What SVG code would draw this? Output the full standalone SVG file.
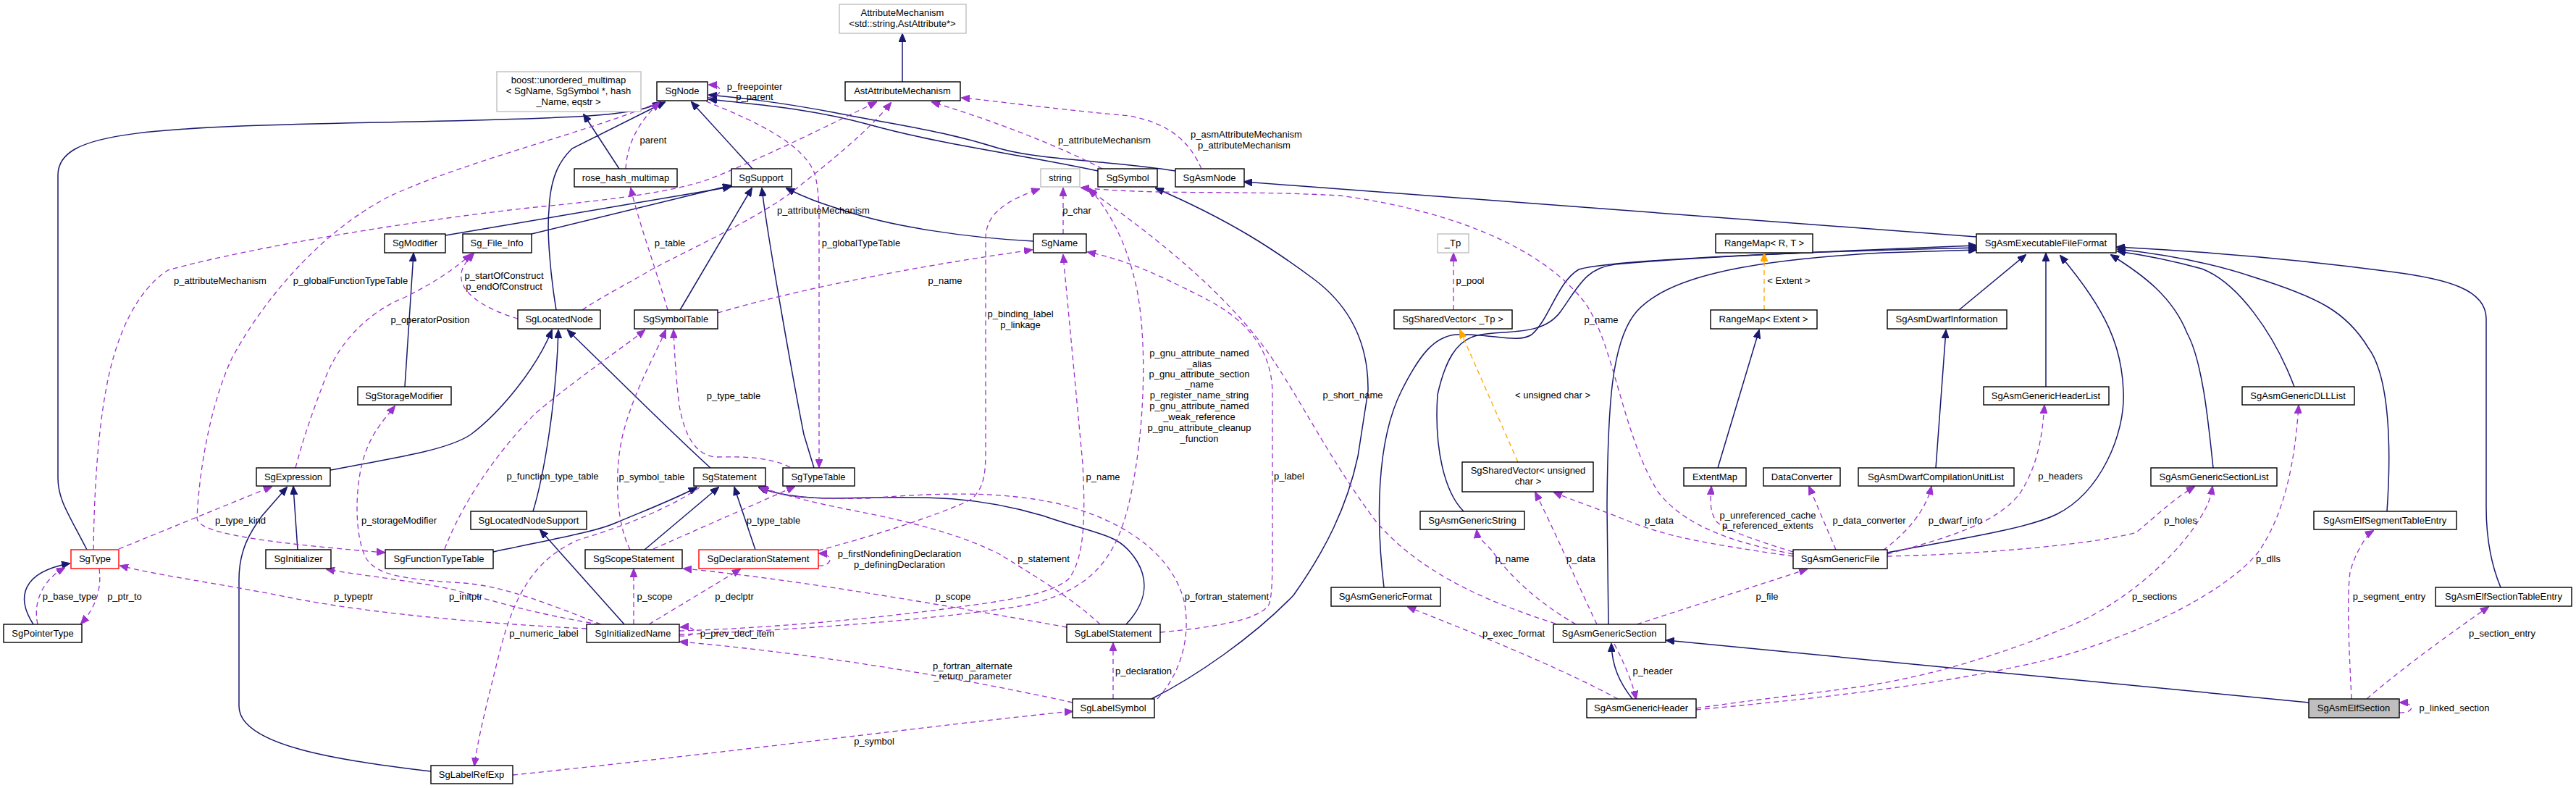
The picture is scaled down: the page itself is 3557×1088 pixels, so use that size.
<svg xmlns="http://www.w3.org/2000/svg" width="3557" height="1088" viewBox="0 0 3557 1088">
<style>
.n rect{fill:#fff;stroke:#000;stroke-width:1.4}
.g rect{stroke:#bfbfbf}
.r rect{stroke:#ff0000}
.f rect{fill:#bfbfbf}
text{font-family:"Liberation Sans",Arial,sans-serif;font-size:13px;fill:#000;text-anchor:middle}
.inh{fill:none;stroke:#191970;stroke-width:1.5;marker-end:url(#ab)}
.use{fill:none;stroke:#9a32cd;stroke-width:1.3;stroke-dasharray:7,5;marker-end:url(#ap)}
.tpl{fill:none;stroke:#ffa500;stroke-width:1.3;stroke-dasharray:7,5;marker-end:url(#ao)}
</style>
<defs>
<marker id="ab" viewBox="0 0 12 10" markerWidth="12" markerHeight="10" refX="11" refY="5" orient="auto" markerUnits="userSpaceOnUse"><path d="M0,0L12,5L0,10z" fill="#191970" stroke="#191970"/></marker>
<marker id="ap" viewBox="0 0 12 10" markerWidth="12" markerHeight="10" refX="11" refY="5" orient="auto" markerUnits="userSpaceOnUse"><path d="M0,0L12,5L0,10z" fill="#9a32cd" stroke="#9a32cd"/></marker>
<marker id="ao" viewBox="0 0 12 10" markerWidth="12" markerHeight="10" refX="11" refY="5" orient="auto" markerUnits="userSpaceOnUse"><path d="M0,0L12,5L0,10z" fill="#ffa500" stroke="#ffa500"/></marker>
</defs>
<rect width="3557" height="1088" fill="#fff"/>
<g id="edges">
<path class="inh" d="M120,759 C95,710 80,690 80,660 L80,242 C80,180 200,175 574,168 C800,163 880,160 912,141"/>
<path class="inh" d="M855,233 L806,158"/>
<path class="inh" d="M768,428 C760,380 755,320 758,290 C760,240 775,220 790,205 L918,141"/>
<path class="inh" d="M1039,233 L955,141"/>
<path class="inh" d="M1516,236 C1420,215 1300,200 1200,172 C1120,150 1050,145 979,137"/>
<path class="inh" d="M1623,236 C1540,222 1440,222 1380,205 C1300,180 1250,175 1150,155 C1070,140 1020,135 979,131"/>
<path class="inh" d="M1246,113 L1246,47"/>
<path class="inh" d="M615,325 L1009,258"/>
<path class="inh" d="M734,323 L1009,256"/>
<path class="inh" d="M939,428 L1038,260"/>
<path class="inh" d="M1124,646 L1110,600 C1100,550 1060,330 1052,260"/>
<path class="inh" d="M1427,333 C1330,328 1230,312 1170,292 C1130,280 1110,272 1086,260"/>
<path class="inh" d="M559,534 L571,350"/>
<path class="inh" d="M456,649 C560,630 620,620 650,600 C690,570 740,510 762,456"/>
<path class="inh" d="M736,706 C750,660 768,560 771,456"/>
<path class="inh" d="M981,646 C930,600 850,520 784,456"/>
<path class="inh" d="M411,759 L405,672"/>
<path class="inh" d="M595,1065 C470,1050 330,1030 330,975 L330,800 C330,760 345,735 362,712 L396,673"/>
<path class="inh" d="M681,762 C760,745 820,735 850,722 C890,705 930,690 962,673"/>
<path class="inh" d="M890,759 L992,673"/>
<path class="inh" d="M1043,759 L1014,673"/>
<path class="inh" d="M1555,862 C1585,830 1585,800 1570,775 C1545,735 1520,740 1440,712 C1330,680 1260,687 1150,688 C1100,688 1070,682 1048,673"/>
<path class="inh" d="M862,862 L746,732"/>
<path class="inh" d="M46,862 C22,825 30,790 96,778"/>
<path class="inh" d="M1590,965 C1650,935 1730,880 1786,822 C1830,760 1860,700 1875,630 L1889,540 C1890,470 1860,420 1815,386 C1760,345 1700,305 1596,260"/>
<path class="inh" d="M2729,327 L1718,251"/>
<path class="inh" d="M1911,811 C1900,720 1900,610 1935,540 C1960,490 1980,465 2010,462 C2060,460 2095,475 2115,462 C2140,440 2150,390 2180,372 C2220,360 2400,352 2729,339"/>
<path class="inh" d="M2021,706 C1995,680 1980,620 1985,545 C1995,500 2010,470 2040,463 C2080,455 2130,465 2155,430 C2180,395 2190,370 2230,365 C2400,350 2600,345 2729,342"/>
<path class="inh" d="M2221,862 L2219,700 C2220,560 2225,470 2260,430 C2300,385 2400,360 2600,349 L2729,345"/>
<path class="inh" d="M2705,428 L2797,352"/>
<path class="inh" d="M2825,534 L2825,350"/>
<path class="inh" d="M2606,763 C2700,745 2800,730 2840,710 C2900,680 2935,600 2932,540 C2930,480 2910,430 2845,353"/>
<path class="inh" d="M3056,646 C3050,590 3042,500 3020,460 C3000,410 2960,380 2915,352"/>
<path class="inh" d="M3168,534 C3140,460 3090,390 3040,371 C3000,360 2960,352 2924,347"/>
<path class="inh" d="M3296,706 C3302,620 3300,520 3270,480 C3240,430 3200,410 3110,382 C3050,362 2980,350 2924,344"/>
<path class="inh" d="M3453,811 C3440,780 3433,740 3433,700 L3433,440 C3433,400 3380,385 3300,375 C3150,355 3000,345 2923,341"/>
<path class="inh" d="M2372,646 L2429,456"/>
<path class="inh" d="M2673,646 L2687,456"/>
<path class="inh" d="M2254,965 C2236,942 2226,920 2225,889"/>
<path class="inh" d="M3188,970 L2301,884"/>
<path class="use" d="M977,135 C1000,132 1000,118 979,117"/>
<path class="use" d="M864,233 C866,200 880,170 910,142"/>
<path class="use" d="M922,428 C905,370 880,300 871,260"/>
<path class="use" d="M129,759 C130,680 135,600 146,540 C160,460 190,400 232,373 C350,340 600,300 750,285 C850,275 930,265 980,247 C1050,220 1150,170 1210,141"/>
<path class="use" d="M1522,233 C1450,195 1350,160 1287,141"/>
<path class="use" d="M1659,233 C1640,190 1610,170 1560,160 C1450,150 1380,140 1328,135"/>
<path class="use" d="M804,428 C830,410 870,390 900,372 C960,340 1050,300 1100,260 C1150,220 1200,180 1230,142"/>
<path class="use" d="M910,141 C820,180 650,220 540,270 C440,320 360,420 320,495 C290,560 275,650 272,715 C272,735 350,748 531,763"/>
<path class="use" d="M975,140 C1050,170 1110,200 1125,240 C1132,265 1131,300 1131,330 L1131,645"/>
<path class="use" d="M715,440 C680,430 640,410 637,385 C635,370 645,360 654,350"/>
<path class="use" d="M408,646 C420,600 435,560 450,520 C470,470 510,430 560,410 C600,390 630,370 650,351"/>
<path class="use" d="M991,432 C1100,400 1250,370 1425,345"/>
<path class="use" d="M870,759 C850,720 848,650 860,600 C875,540 905,490 919,456"/>
<path class="use" d="M614,758 C640,690 690,620 740,570 C800,520 860,480 890,456"/>
<path class="use" d="M1091,645 C1065,632 1030,630 990,631 C960,630 945,600 938,560 C933,520 931,480 930,456"/>
<path class="use" d="M902,758 L1097,672"/>
<path class="use" d="M164,758 L375,672"/>
<path class="use" d="M52,862 C45,830 60,800 89,784"/>
<path class="use" d="M137,785 C140,810 135,835 112,861"/>
<path class="use" d="M810,868 C650,860 500,845 400,825 C300,805 220,795 166,781"/>
<path class="use" d="M828,862 C740,848 680,830 630,815 C560,800 500,795 451,786"/>
<path class="use" d="M830,862 C760,835 700,810 640,805 C560,800 520,795 505,770 C490,740 490,680 500,640 C510,600 530,580 545,561"/>
<path class="use" d="M875,862 L875,786"/>
<path class="use" d="M896,862 L1022,786"/>
<path class="use" d="M938,878 C965,880 965,864 940,866"/>
<path class="use" d="M938,871 C1050,868 1200,855 1310,840 C1400,828 1450,820 1475,800 C1500,770 1498,700 1495,640 L1468,352"/>
<path class="use" d="M938,876 C1100,870 1300,855 1420,835 C1500,815 1540,780 1560,690 C1580,600 1585,480 1570,400 C1555,330 1530,290 1505,261"/>
<path class="use" d="M1130,760 C1200,742 1300,710 1340,690 C1360,675 1361,650 1361,620 L1361,330 C1361,300 1380,280 1435,261"/>
<path class="use" d="M1130,781 C1150,782 1152,765 1131,764"/>
<path class="use" d="M1468,323 L1468,260"/>
<path class="use" d="M1519,862 C1480,825 1420,790 1380,765 C1300,725 1200,710 1140,697 C1100,688 1070,680 1049,672"/>
<path class="use" d="M1473,866 C1300,835 1100,800 944,785"/>
<path class="use" d="M1537,965 L1537,888"/>
<path class="use" d="M1481,970 C1300,930 1100,900 939,886"/>
<path class="use" d="M1598,965 C1630,930 1645,880 1635,830 C1620,770 1560,720 1460,695 C1380,678 1300,680 1200,688 C1120,690 1080,685 1050,674"/>
<path class="use" d="M1602,873 C1680,866 1740,855 1752,835 C1758,820 1757,780 1757,700 L1757,540 C1755,480 1720,440 1660,410 C1600,380 1560,360 1502,348"/>
<path class="use" d="M966,673 C920,705 850,730 800,745 C740,770 710,820 690,900 C670,980 660,1020 655,1057"/>
<path class="use" d="M708,1070 C1000,1040 1300,1000 1481,982"/>
<path class="use" d="M2148,861 C2050,830 1960,790 1900,720 C1840,640 1800,560 1760,500 C1700,410 1600,330 1502,261"/>
<path class="use" d="M2476,765 C2400,750 2330,730 2290,680 C2240,600 2230,480 2190,420 C2130,340 2000,290 1850,270 C1700,262 1600,270 1493,259"/>
<path class="use" d="M2476,768 C2350,750 2300,740 2250,720 C2200,700 2170,690 2146,680"/>
<path class="use" d="M2476,762 C2420,745 2380,730 2370,720 C2360,705 2362,690 2363,672"/>
<path class="use" d="M2535,759 L2498,672"/>
<path class="use" d="M2600,760 C2640,730 2660,700 2667,672"/>
<path class="use" d="M2606,765 C2700,740 2760,720 2790,680 C2815,640 2820,600 2823,560"/>
<path class="use" d="M2606,768 C2750,765 2900,750 2950,735 C2980,710 3000,690 3030,672"/>
<path class="use" d="M2342,978 C2450,962 2530,955 2600,943 C2700,925 2800,890 2875,857 C2950,820 3010,760 3035,720 C3048,700 3052,690 3055,672"/>
<path class="use" d="M2342,980 C2500,965 2700,945 2850,905 C3000,860 3090,800 3120,760 C3160,700 3170,620 3174,560"/>
<path class="use" d="M3247,965 C3244,900 3240,830 3245,790 C3250,770 3265,740 3277,733"/>
<path class="use" d="M3268,965 C3320,920 3390,870 3436,838"/>
<path class="use" d="M3313,984 C3335,985 3335,970 3314,970"/>
<path class="use" d="M2229,889 C2245,920 2255,945 2259,965"/>
<path class="use" d="M2234,965 C2150,920 2050,880 1944,838"/>
<path class="use" d="M2260,862 L2495,786"/>
<path class="use" d="M2176,862 C2120,830 2080,790 2060,760 C2045,745 2040,740 2039,732"/>
<path class="use" d="M2205,862 C2180,810 2150,740 2120,680"/>
<path class="use" d="M2007,428 L2007,350"/>
<path class="tpl" d="M2096,638 L2016,456"/>
<path class="tpl" d="M2436,428 L2436,350"/>
</g>
<g id="labels">
<text x="1042" y="124">p_freepointer</text><text x="1042" y="138">p_parent</text>
<text x="902" y="198">parent</text>
<text x="1525" y="198">p_attributeMechanism</text>
<text x="1721" y="190">p_asmAttributeMechanism</text><text x="1718" y="205">p_attributeMechanism</text>
<text x="1137" y="295">p_attributeMechanism</text>
<text x="925" y="340">p_table</text>
<text x="1189" y="340">p_globalTypeTable</text>
<text x="1487" y="295">p_char</text>
<text x="1305" y="392">p_name</text>
<text x="1409" y="438">p_binding_label</text><text x="1409" y="453">p_linkage</text>
<text x="1656" y="492">p_gnu_attribute_named</text><text x="1656" y="507">_alias</text><text x="1656" y="521">p_gnu_attribute_section</text><text x="1656" y="535">_name</text><text x="1656" y="550">p_register_name_string</text><text x="1656" y="565">p_gnu_attribute_named</text><text x="1656" y="580">_weak_reference</text><text x="1656" y="595">p_gnu_attribute_cleanup</text><text x="1656" y="610">_function</text>
<text x="304" y="392">p_attributeMechanism</text>
<text x="484" y="392">p_globalFunctionTypeTable</text>
<text x="696" y="385">p_startOfConstruct</text><text x="696" y="400">p_endOfConstruct</text>
<text x="594" y="446">p_operatorPosition</text>
<text x="2030" y="392">p_pool</text>
<text x="2470" y="392">&lt; Extent &gt;</text>
<text x="2211" y="446">p_name</text>
<text x="1868" y="550">p_short_name</text>
<text x="2144" y="550">&lt; unsigned char &gt;</text>
<text x="1013" y="551">p_type_table</text>
<text x="900" y="663">p_symbol_table</text>
<text x="763" y="662">p_function_type_table</text>
<text x="1523" y="663">p_name</text>
<text x="1780" y="662">p_label</text>
<text x="2845" y="662">p_headers</text>
<text x="332" y="723">p_type_kind</text>
<text x="551" y="723">p_storageModifier</text>
<text x="1068" y="723">p_type_table</text>
<text x="2291" y="723">p_data</text>
<text x="2441" y="716">p_unreferenced_cache</text><text x="2441" y="730">p_referenced_extents</text>
<text x="2581" y="723">p_data_converter</text>
<text x="2700" y="723">p_dwarf_info</text>
<text x="3011" y="723">p_holes</text>
<text x="1242" y="769">p_firstNondefiningDeclaration</text><text x="1242" y="784">p_definingDeclaration</text>
<text x="1441" y="776">p_statement</text>
<text x="2088" y="776">p_name</text>
<text x="2183" y="776">p_data</text>
<text x="3132" y="776">p_dlls</text>
<text x="96" y="828">p_base_type</text>
<text x="172" y="828">p_ptr_to</text>
<text x="488" y="828">p_typeptr</text>
<text x="643" y="828">p_initptr</text>
<text x="904" y="828">p_scope</text>
<text x="1014" y="828">p_declptr</text>
<text x="1316" y="828">p_scope</text>
<text x="1694" y="828">p_fortran_statement</text>
<text x="2440" y="828">p_file</text>
<text x="2975" y="828">p_sections</text>
<text x="3299" y="828">p_segment_entry</text>
<text x="751" y="879">p_numeric_label</text>
<text x="1018" y="879">p_prev_decl_item</text>
<text x="2090" y="879">p_exec_format</text>
<text x="3455" y="879">p_section_entry</text>
<text x="1343" y="924">p_fortran_alternate</text><text x="1343" y="938">_return_parameter</text>
<text x="1579" y="931">p_declaration</text>
<text x="2282" y="931">p_header</text>
<text x="3389" y="982">p_linked_section</text>
<text x="1207" y="1028">p_symbol</text>
</g>
<g id="n_AttributeMechanism" class="n g"><rect x="1159" y="6" width="175" height="40"/><text x="1246" y="22">AttributeMechanism</text><text x="1246" y="37">&lt;std::string,AstAttribute*&gt;</text></g>
<g id="n_boost" class="n g"><rect x="686" y="99" width="199" height="55"/><text x="785" y="115">boost::unordered_multimap</text><text x="785" y="130">&lt; SgName, SgSymbol *, hash</text><text x="785" y="145">_Name, eqstr &gt;</text></g>
<g id="n_SgNode" class="n"><rect x="907" y="113" width="70" height="26"/><text x="942" y="130">SgNode</text></g>
<g id="n_AstAttributeMechanism" class="n"><rect x="1167" y="113" width="159" height="26"/><text x="1246" y="130">AstAttributeMechanism</text></g>
<g id="n_rose_hash_multimap" class="n"><rect x="793" y="233" width="142" height="25"/><text x="864" y="250">rose_hash_multimap</text></g>
<g id="n_SgSupport" class="n"><rect x="1010" y="233" width="83" height="25"/><text x="1051" y="250">SgSupport</text></g>
<g id="n_string" class="n g"><rect x="1437" y="233" width="54" height="25"/><text x="1464" y="250">string</text></g>
<g id="n_SgSymbol" class="n"><rect x="1516" y="233" width="82" height="25"/><text x="1557" y="250">SgSymbol</text></g>
<g id="n_SgAsmNode" class="n"><rect x="1623" y="233" width="95" height="25"/><text x="1670" y="250">SgAsmNode</text></g>
<g id="n_SgModifier" class="n"><rect x="531" y="323" width="84" height="26"/><text x="573" y="340">SgModifier</text></g>
<g id="n_Sg_File_Info" class="n"><rect x="639" y="323" width="95" height="26"/><text x="686" y="340">Sg_File_Info</text></g>
<g id="n_SgName" class="n"><rect x="1427" y="323" width="73" height="26"/><text x="1463" y="340">SgName</text></g>
<g id="n_Tp" class="n g"><rect x="1985" y="323" width="43" height="26"/><text x="2006" y="340">_Tp</text></g>
<g id="n_RangeMapRT" class="n"><rect x="2369" y="323" width="134" height="26"/><text x="2436" y="340">RangeMap&lt; R, T &gt;</text></g>
<g id="n_SgAsmExecutableFileFormat" class="n"><rect x="2729" y="323" width="193" height="26"/><text x="2825" y="340">SgAsmExecutableFileFormat</text></g>
<g id="n_SgLocatedNode" class="n"><rect x="715" y="428" width="114" height="26"/><text x="772" y="445">SgLocatedNode</text></g>
<g id="n_SgSymbolTable" class="n"><rect x="876" y="428" width="115" height="26"/><text x="933" y="445">SgSymbolTable</text></g>
<g id="n_SgSharedVectorTp" class="n"><rect x="1925" y="428" width="163" height="26"/><text x="2006" y="445">SgSharedVector&lt; _Tp &gt;</text></g>
<g id="n_RangeMapExtent" class="n"><rect x="2362" y="428" width="147" height="26"/><text x="2435" y="445">RangeMap&lt; Extent &gt;</text></g>
<g id="n_SgAsmDwarfInformation" class="n"><rect x="2606" y="428" width="165" height="26"/><text x="2688" y="445">SgAsmDwarfInformation</text></g>
<g id="n_SgStorageModifier" class="n"><rect x="494" y="534" width="129" height="25"/><text x="558" y="551">SgStorageModifier</text></g>
<g id="n_SgAsmGenericHeaderList" class="n"><rect x="2739" y="534" width="173" height="25"/><text x="2825" y="551">SgAsmGenericHeaderList</text></g>
<g id="n_SgAsmGenericDLLList" class="n"><rect x="3096" y="534" width="155" height="25"/><text x="3173" y="551">SgAsmGenericDLLList</text></g>
<g id="n_SgExpression" class="n"><rect x="354" y="646" width="102" height="25"/><text x="405" y="663">SgExpression</text></g>
<g id="n_SgStatement" class="n"><rect x="958" y="646" width="99" height="25"/><text x="1007" y="663">SgStatement</text></g>
<g id="n_SgTypeTable" class="n"><rect x="1081" y="646" width="99" height="25"/><text x="1130" y="663">SgTypeTable</text></g>
<g id="n_SgSharedVectorUC" class="n"><rect x="2019" y="638" width="181" height="41"/><text x="2110" y="654">SgSharedVector&lt; unsigned</text><text x="2110" y="669">char &gt;</text></g>
<g id="n_ExtentMap" class="n"><rect x="2325" y="646" width="86" height="25"/><text x="2368" y="663">ExtentMap</text></g>
<g id="n_DataConverter" class="n"><rect x="2435" y="646" width="106" height="25"/><text x="2488" y="663">DataConverter</text></g>
<g id="n_SgAsmDwarfCompilationUnitList" class="n"><rect x="2566" y="646" width="215" height="25"/><text x="2673" y="663">SgAsmDwarfCompilationUnitList</text></g>
<g id="n_SgAsmGenericSectionList" class="n"><rect x="2970" y="646" width="174" height="25"/><text x="3057" y="663">SgAsmGenericSectionList</text></g>
<g id="n_SgLocatedNodeSupport" class="n"><rect x="650" y="706" width="160" height="25"/><text x="730" y="723">SgLocatedNodeSupport</text></g>
<g id="n_SgAsmGenericString" class="n"><rect x="1961" y="706" width="144" height="25"/><text x="2033" y="723">SgAsmGenericString</text></g>
<g id="n_SgAsmElfSegmentTableEntry" class="n"><rect x="3195" y="706" width="197" height="25"/><text x="3293" y="723">SgAsmElfSegmentTableEntry</text></g>
<g id="n_SgType" class="n r"><rect x="98" y="759" width="66" height="26"/><text x="131" y="776">SgType</text></g>
<g id="n_SgInitializer" class="n"><rect x="367" y="759" width="90" height="26"/><text x="412" y="776">SgInitializer</text></g>
<g id="n_SgFunctionTypeTable" class="n"><rect x="532" y="759" width="149" height="26"/><text x="606" y="776">SgFunctionTypeTable</text></g>
<g id="n_SgScopeStatement" class="n"><rect x="808" y="759" width="134" height="26"/><text x="875" y="776">SgScopeStatement</text></g>
<g id="n_SgDeclarationStatement" class="n r"><rect x="965" y="759" width="165" height="26"/><text x="1047" y="776">SgDeclarationStatement</text></g>
<g id="n_SgAsmGenericFile" class="n"><rect x="2476" y="759" width="130" height="26"/><text x="2541" y="776">SgAsmGenericFile</text></g>
<g id="n_SgAsmGenericFormat" class="n"><rect x="1838" y="811" width="151" height="26"/><text x="1913" y="828">SgAsmGenericFormat</text></g>
<g id="n_SgAsmElfSectionTableEntry" class="n"><rect x="3363" y="811" width="188" height="26"/><text x="3457" y="828">SgAsmElfSectionTableEntry</text></g>
<g id="n_SgPointerType" class="n"><rect x="5" y="862" width="108" height="25"/><text x="59" y="879">SgPointerType</text></g>
<g id="n_SgInitializedName" class="n"><rect x="810" y="862" width="128" height="25"/><text x="874" y="879">SgInitializedName</text></g>
<g id="n_SgLabelStatement" class="n"><rect x="1473" y="862" width="129" height="25"/><text x="1537" y="879">SgLabelStatement</text></g>
<g id="n_SgAsmGenericSection" class="n"><rect x="2145" y="862" width="155" height="25"/><text x="2222" y="879">SgAsmGenericSection</text></g>
<g id="n_SgLabelSymbol" class="n"><rect x="1481" y="965" width="113" height="26"/><text x="1537" y="982">SgLabelSymbol</text></g>
<g id="n_SgAsmGenericHeader" class="n"><rect x="2191" y="965" width="151" height="26"/><text x="2266" y="982">SgAsmGenericHeader</text></g>
<g id="n_SgAsmElfSection" class="n f"><rect x="3188" y="965" width="125" height="26"/><text x="3250" y="982">SgAsmElfSection</text></g>
<g id="n_SgLabelRefExp" class="n"><rect x="595" y="1057" width="113" height="25"/><text x="651" y="1074">SgLabelRefExp</text></g>
</svg>
